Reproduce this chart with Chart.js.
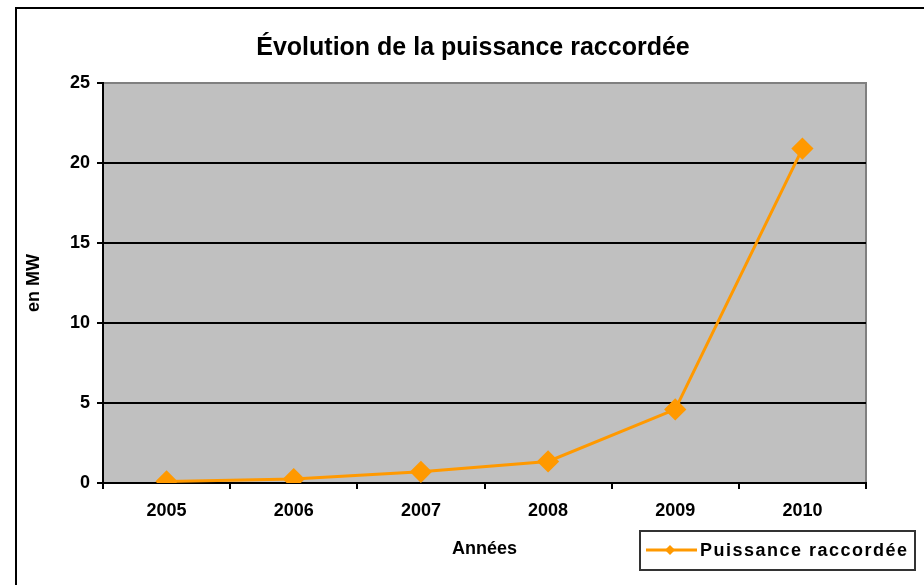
<!DOCTYPE html>
<html>
<head>
<meta charset="utf-8">
<script src="https://cdn.jsdelivr.net/npm/chart.js@4"></script>
<style>
  html, body { margin: 0; padding: 0; background: #fff; }
  #wrap { width: 924px; height: 585px; position: relative; }
</style>
</head>
<body>
<div id="wrap"><canvas id="chart"></canvas></div>
<script>
  // Data
  const years = ["2005", "2006", "2007", "2008", "2009", "2010"];
  const power = [0.1, 0.25, 0.7, 1.35, 4.6, 20.9];
  const seriesName = "Puissance raccordée";
  const chartTitle = "Évolution de la puissance raccordée";

  const orange = "#ff9900";
  const font = "'Liberation Sans', Arial, sans-serif";

  // gray plot area, outer frame, title and boxed legend
  const decor = {
    id: "decor",
    beforeDraw(chart) {
      const { ctx, chartArea: a } = chart;
      ctx.save();
      ctx.fillStyle = "#c0c0c0";
      ctx.fillRect(a.left, a.top, a.right - a.left, a.bottom - a.top);
      ctx.strokeStyle = "#808080";
      ctx.lineWidth = 2;
      ctx.beginPath();
      ctx.moveTo(a.left, a.top);
      ctx.lineTo(a.right, a.top);
      ctx.lineTo(a.right, a.bottom);
      ctx.stroke();
      // outer frame (left and top only visible)
      ctx.strokeStyle = "#000";
      ctx.beginPath();
      ctx.moveTo(16, 600);
      ctx.lineTo(16, 8);
      ctx.lineTo(930, 8);
      ctx.stroke();
      // title
      ctx.fillStyle = "#000";
      ctx.font = "bold 25px " + font;
      ctx.textAlign = "center";
      ctx.textBaseline = "alphabetic";
      ctx.fillText(chartTitle, 473, 55);
      ctx.restore();
    },
    afterDraw(chart) {
      const { ctx } = chart;
      const ds = chart.data.datasets[0];
      ctx.save();
      ctx.fillStyle = "#fff";
      ctx.fillRect(640, 531, 275, 39);
      ctx.strokeStyle = "#333";
      ctx.lineWidth = 2;
      ctx.strokeRect(640, 531, 275, 39);
      ctx.strokeStyle = ds.borderColor;
      ctx.lineWidth = 3;
      ctx.beginPath();
      ctx.moveTo(646, 550);
      ctx.lineTo(697, 550);
      ctx.stroke();
      ctx.fillStyle = ds.borderColor;
      ctx.beginPath();
      ctx.moveTo(670, 545);
      ctx.lineTo(675, 550);
      ctx.lineTo(670, 555);
      ctx.lineTo(665, 550);
      ctx.closePath();
      ctx.fill();
      ctx.fillStyle = "#000";
      ctx.font = "bold 18px " + font;
      ctx.letterSpacing = "1.5px";
      ctx.textAlign = "left";
      ctx.textBaseline = "middle";
      ctx.fillText(ds.label, 700, 551);
      ctx.restore();
    }
  };

  new Chart(document.getElementById("chart"), {
    type: "line",
    data: {
      labels: years,
      datasets: [{
        label: seriesName,
        data: power,
        borderColor: orange,
        backgroundColor: orange,
        borderWidth: 3,
        pointStyle: "rectRot",
        pointRadius: 9,
        pointHoverRadius: 9,
        tension: 0
      }]
    },
    options: {
      responsive: true,
      maintainAspectRatio: false,
      animation: false,
      layout: { padding: { left: 16, right: 58, top: 83, bottom: 25 } },
      plugins: {
        legend: { display: false },
        title: { display: false },
        tooltip: { enabled: false }
      },
      scales: {
        x: {
          offset: true,
          grid: {
            offset: true,
            drawOnChartArea: false,
            drawTicks: true,
            tickLength: 6,
            color: "#000",
            lineWidth: 2
          },
          border: { color: "#000", width: 2 },
          ticks: {
            color: "#000",
            padding: 11,
            maxRotation: 0,
            font: { family: font, size: 18, weight: "bold" }
          },
          title: {
            display: true,
            text: "Années",
            color: "#000",
            padding: { top: 0, bottom: 0 },
            font: { family: font, size: 18, weight: "bold" }
          },
          afterFit(s) { s.height = 77; }
        },
        y: {
          min: 0,
          max: 25,
          ticks: {
            stepSize: 5,
            color: "#000",
            padding: 7,
            font: { family: font, size: 18, weight: "bold" }
          },
          grid: {
            color: (c) => (c.tick && c.tick.value === 25 ? "#808080" : "#000"),
            lineWidth: 2,
            tickLength: 6,
            tickColor: "#000"
          },
          border: { color: "#000", width: 2 },
          title: {
            display: true,
            text: "en MW",
            color: "#000",
            padding: { top: 7, bottom: 0 },
            font: { family: font, size: 18, weight: "bold" }
          },
          afterFit(s) { s.width = 87; }
        }
      }
    },
    plugins: [decor]
  });
</script>
</body>
</html>
